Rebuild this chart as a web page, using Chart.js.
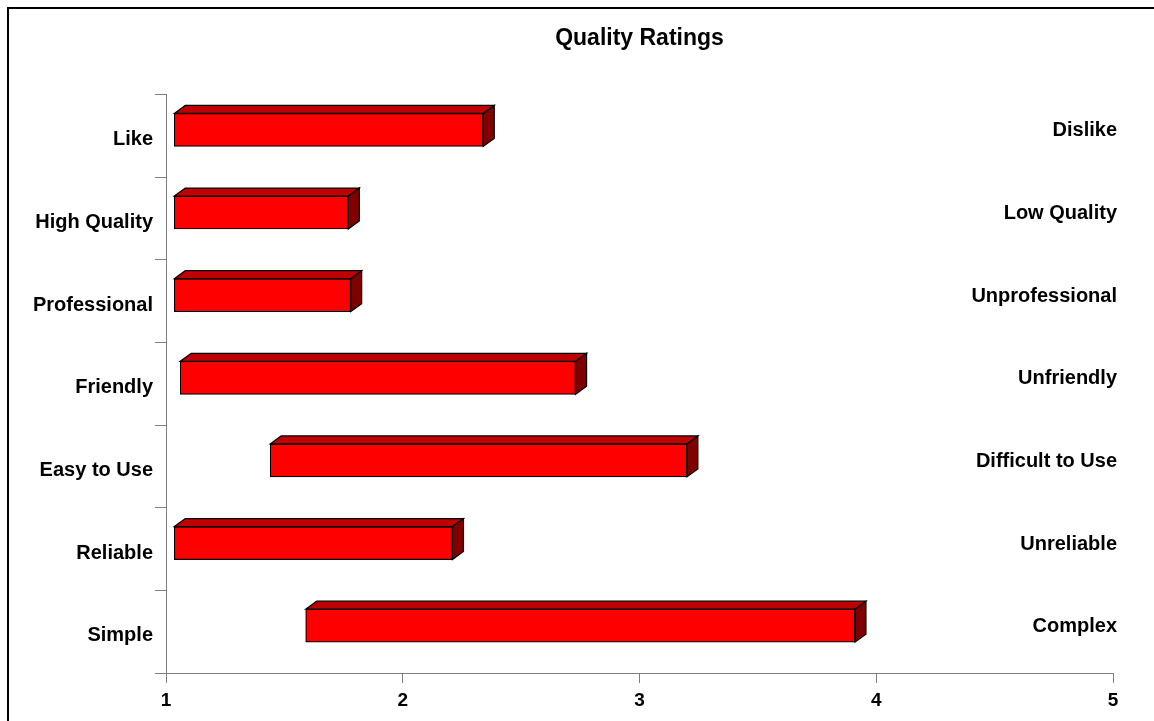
<!DOCTYPE html>
<html>
<head>
<meta charset="utf-8">
<title>Quality Ratings</title>
<script src="https://cdn.jsdelivr.net/npm/chart.js@4/dist/chart.umd.min.js"></script>
<style>
  html, body { margin: 0; padding: 0; background: #fff; overflow: hidden; }
  #chart { display: block; }
</style>
</head>
<body>
<canvas id="chart" width="1154" height="721"></canvas>
<script>
// rating scale, 1 (left words) to 5 (right words)
const leftLabels = ['Like', 'High Quality', 'Professional', 'Friendly', 'Easy to Use', 'Reliable', 'Simple'];
const rightLabels = ['Dislike', 'Low Quality', 'Unprofessional', 'Unfriendly', 'Difficult to Use', 'Unreliable', 'Complex'];
const startValues = [1.035, 1.035, 1.035, 1.06, 1.44, 1.035, 1.59];
const endValues = [2.34, 1.77, 1.78, 2.73, 3.20, 2.21, 3.91];
const scaleMin = 1;
const scaleMax = 5;

const FONT = 'Arial, "Liberation Sans", sans-serif';
const AXIS_GREY = '#808080';
const DEPTH_X = 11;
const DEPTH_Y = 8;
const LIFT = -6;

// frame around the picture (only top and left edges show)
const framePlugin = {
  id: 'frame',
  beforeDraw(chart) {
    const ctx = chart.ctx;
    ctx.save();
    ctx.strokeStyle = '#000';
    ctx.lineWidth = 2;
    ctx.strokeRect(8, 8, chart.width + 20, chart.height + 20);
    ctx.restore();
  }
};

// fake 3d: lift the bars a bit, then add top and side faces
const boxPlugin = {
  id: 'box3d',
  beforeDatasetsDraw(chart) {
    chart.ctx.save();
    chart.ctx.translate(0, LIFT);
  },
  afterDatasetsDraw(chart) {
    const ctx = chart.ctx;
    ctx.lineWidth = 1.2;
    ctx.strokeStyle = '#000';
    ctx.lineJoin = 'miter';
    chart.getDatasetMeta(0).data.forEach(bar => {
      const p = bar.getProps(['x', 'y', 'base', 'height'], true);
      const left = Math.min(p.x, p.base);
      const right = Math.max(p.x, p.base);
      const top = p.y - p.height / 2;
      const bottom = p.y + p.height / 2;

      ctx.beginPath();
      ctx.moveTo(left, top);
      ctx.lineTo(left + DEPTH_X, top - DEPTH_Y);
      ctx.lineTo(right + DEPTH_X, top - DEPTH_Y);
      ctx.lineTo(right, top);
      ctx.closePath();
      ctx.fillStyle = '#C00000';
      ctx.fill();
      ctx.stroke();

      ctx.beginPath();
      ctx.moveTo(right, top);
      ctx.lineTo(right + DEPTH_X, top - DEPTH_Y);
      ctx.lineTo(right + DEPTH_X, bottom - DEPTH_Y);
      ctx.lineTo(right, bottom);
      ctx.closePath();
      ctx.fillStyle = '#800000';
      ctx.fill();
      ctx.stroke();
    });
    ctx.restore();
  }
};

// the opposite words on the right-hand side
const rightWordsPlugin = {
  id: 'rightWords',
  afterDraw(chart) {
    const ctx = chart.ctx;
    const y = chart.scales.y;
    ctx.save();
    ctx.font = 'bold 20px ' + FONT;
    ctx.fillStyle = '#000';
    ctx.textAlign = 'right';
    ctx.textBaseline = 'middle';
    rightLabels.forEach((label, i) => {
      ctx.fillText(label, chart.chartArea.right + 4, y.getPixelForValue(i) - 5);
    });
    ctx.restore();
  }
};

new Chart(document.getElementById('chart'), {
  type: 'bar',
  data: {
    labels: leftLabels,
    datasets: [{
      data: startValues.map((s, i) => [s, endValues[i]]),
      backgroundColor: '#FF0000',
      borderColor: '#000',
      borderWidth: 1.2,
      borderSkipped: false,
      barThickness: 33
    }]
  },
  options: {
    indexAxis: 'y',
    responsive: false,
    animation: false,
    layout: { padding: { left: 0, right: 41, top: 0, bottom: 0 } },
    plugins: {
      legend: { display: false },
      tooltip: { enabled: false },
      title: {
        display: true,
        fullSize: false,
        text: 'Quality Ratings',
        color: '#000',
        font: { family: FONT, size: 23, weight: 'bold', lineHeight: 1.2 },
        padding: { top: 25, bottom: 42 }
      }
    },
    scales: {
      x: {
        type: 'linear',
        min: scaleMin,
        max: scaleMax,
        afterFit(scale) { scale.height = 48; },
        ticks: {
          stepSize: 1,
          color: '#000',
          padding: 6,
          font: { family: FONT, size: 19, weight: 'bold' }
        },
        grid: { drawOnChartArea: false, tickLength: 10, color: AXIS_GREY },
        border: { color: AXIS_GREY, width: 1 }
      },
      y: {
        type: 'category',
        afterFit(scale) { scale.width = 166; },
        ticks: {
          color: '#000',
          padding: 2,
          labelOffset: 4,
          font: { family: FONT, size: 20, weight: 'bold' }
        },
        grid: { offset: true, drawOnChartArea: false, tickLength: 11, color: AXIS_GREY },
        border: { color: AXIS_GREY, width: 1 }
      }
    }
  },
  plugins: [framePlugin, boxPlugin, rightWordsPlugin]
});
</script>
</body>
</html>
